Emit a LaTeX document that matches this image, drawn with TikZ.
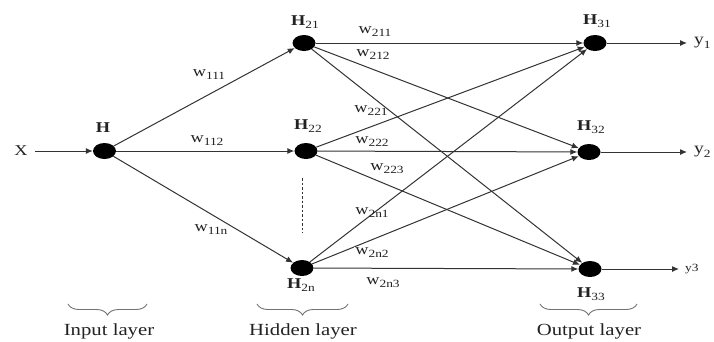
\documentclass[tikz,border=0pt]{standalone}
\usepackage{fontspec}
\usepackage{graphicx}
\setmainfont{Liberation Serif}
\usetikzlibrary{arrows.meta,decorations.pathreplacing,shapes.geometric}
\definecolor{ink}{HTML}{222222}
\definecolor{edge}{HTML}{333333}
\newcommand\widen[1]{\scalebox{1.22}[1]{#1}}
\newcommand\subs[1]{\raisebox{-0.45ex}{\fontsize{11}{11}\selectfont #1}}
\newcommand\wlbl[1]{\widen{w\subs{#1}}}
\newcommand\hlbl[1]{\widen{\textbf{H}\subs{#1}}}
\begin{document}
\begin{tikzpicture}[x=1pt,y=-1pt,
  neuron/.style={ellipse,fill=black,minimum width=23pt,minimum height=16pt,inner sep=0pt},
  conn/.style={draw=edge,line width=1pt,-{Latex[length=7pt,width=6pt]}},
  wlab/.style={text=ink,font=\fontsize{15}{15}\selectfont,inner sep=0pt},
  hlab/.style={text=ink,font=\fontsize{15}{15}\selectfont,inner sep=0pt},
  layerlab/.style={text=ink,font=\fontsize{17}{17}\selectfont,inner sep=0pt},
  lbrace/.style={draw=black!55,line width=0.9pt,decorate,decoration={brace,amplitude=11pt}}]
\useasboundingbox (0,0) rectangle (714,341);

% neurons
\node[neuron] (h)   at (104.5,151) {};
\node[neuron] (h21) at (304,43) {};
\node[neuron] (h22) at (306,151) {};
\node[neuron] (h2n) at (302,268) {};
\node[neuron] (h31) at (595,43) {};
\node[neuron] (h32) at (589,152) {};
\node[neuron] (h33) at (590,269) {};

% neuron labels
\node[hlab] (lh)   at (103,128) {\widen{\textbf{H}}};
\node[hlab] (lh21) at (305,22) {\hlbl{21}};
\node[hlab] (lh22) at (308,126) {\hlbl{22}};
\node[hlab] (lh2n) at (301,285) {\hlbl{2n}};
\node[hlab] (lh31) at (597,21) {\hlbl{31}};
\node[hlab] (lh32) at (591,127) {\hlbl{32}};
\node[hlab] (lh33) at (591,294) {\hlbl{33}};

% input
\node[text=ink,font=\fontsize{15}{15}\selectfont,inner sep=0pt] (x) at (21,151) {\widen{X}};
\coordinate (xs) at (35,151);
\draw[conn] (xs) -- (h);

% input to hidden
\draw[conn] (h) -- (h21);
\draw[conn] (h) -- (h22);
\draw[conn] (h) -- (h2n);

% hidden to output
\foreach \s in {h21,h22,h2n}{
  \foreach \t in {h31,h32,h33}{
    \draw[conn] (\s) -- (\t);
  }
}

% outputs
\coordinate (o1) at (687,43);
\coordinate (o2) at (687,152);
\coordinate (o3) at (679,269);
\draw[conn] (h31) -- (o1);
\draw[conn] (h32) -- (o2);
\draw[conn] (h33) -- (o3);
\node[text=ink,font=\fontsize{16}{16}\selectfont,inner sep=0pt,anchor=west] (y1) at (694,43) {\widen{y\subs{1}}};
\node[text=ink,font=\fontsize{16}{16}\selectfont,inner sep=0pt,anchor=west] (y2) at (694,152) {\widen{y\subs{2}}};
\node[text=ink,font=\fontsize{11}{11}\selectfont,inner sep=0pt,anchor=west] (y3) at (685,269) {\widen{y3}};

% dashed
\coordinate (d1) at (302,178);
\coordinate (d2) at (302,233);
\draw[edge,line width=0.9pt,dash pattern=on 2.5pt off 2pt] (d1) -- (d2);

% weight labels
\node[wlab] (w111) at (209,75) {\wlbl{111}};
\node[wlab] (w112) at (207,141) {\wlbl{112}};
\node[wlab] (w11n) at (211,230) {\wlbl{11n}};
\node[wlab] (w211) at (375,32) {\wlbl{211}};
\node[wlab] (w212) at (373,55) {\wlbl{212}};
\node[wlab] (w221) at (371,111) {\wlbl{221}};
\node[wlab] (w222) at (372,142) {\wlbl{222}};
\node[wlab] (w223) at (387,169) {\wlbl{223}};
\node[wlab] (w2n1) at (372,213) {\wlbl{2n1}};
\node[wlab,fill=white,inner sep=1pt] (w2n2) at (372,253) {\wlbl{2n2}};
\node[wlab] (w2n3) at (383,283) {\wlbl{2n3}};

% braces
\coordinate (b1r) at (147,304);
\coordinate (b1l) at (68,304);
\coordinate (b2r) at (348,304);
\coordinate (b2l) at (257,304);
\coordinate (b3r) at (637,304);
\coordinate (b3l) at (540,304);
\draw[lbrace] (b1r) -- (b1l);
\draw[lbrace] (b2r) -- (b2l);
\draw[lbrace] (b3r) -- (b3l);

\node[layerlab] (in)  at (109,331) {\widen{Input layer}};
\node[layerlab] (hid) at (303,331) {\widen{Hidden layer}};
\node[layerlab] (out) at (589,331) {\widen{Output layer}};
\end{tikzpicture}
\end{document}
